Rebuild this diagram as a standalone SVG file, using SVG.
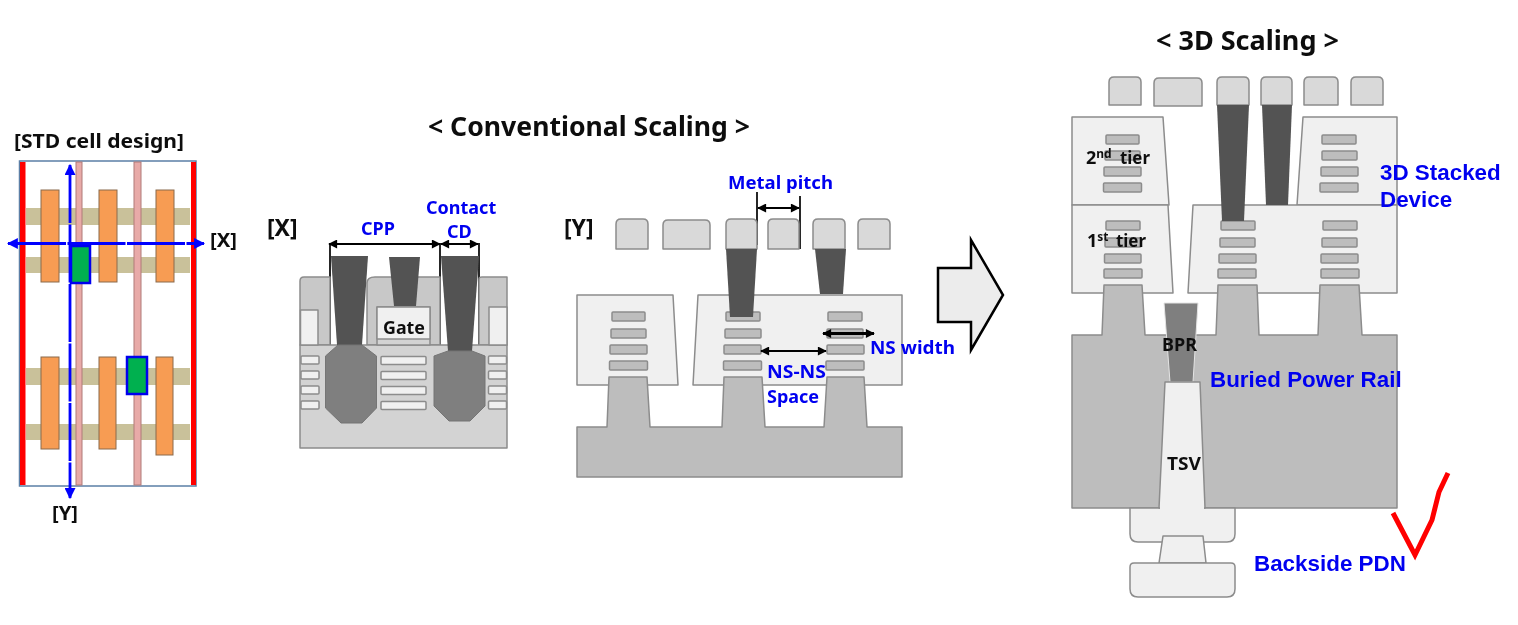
<svg xmlns="http://www.w3.org/2000/svg" width="1518" height="625" viewBox="0 0 1518 625">
<defs>
<filter id="soft" filterUnits="userSpaceOnUse" x="0" y="0" width="1518" height="625"><feGaussianBlur stdDeviation="0.45"/></filter>
<marker id="bk" viewBox="0 0 10 10" refX="9" refY="5" markerWidth="10" markerHeight="9" markerUnits="userSpaceOnUse" orient="auto-start-reverse"><path d="M0 0L10 5L0 10Z" fill="#000"/></marker>
<marker id="bl" viewBox="0 0 10 10" refX="9" refY="5" markerWidth="11" markerHeight="11" markerUnits="userSpaceOnUse" orient="auto-start-reverse"><path d="M0 0L10 5L0 10Z" fill="#0000ff"/></marker>
</defs>
<style>
text{font-family:"Noto Sans","Liberation Sans",sans-serif;font-weight:700}
.h{font-size:26px;fill:#111}
.k{font-size:18px;fill:#111}
.b{font-size:18px;fill:#0000f0}
.a{font-family:"Liberation Sans",Arial,sans-serif;font-size:22.4px;fill:#0000f0}
.s{font-size:12px}
.o{fill:#f79c53;stroke:#8a6a4c;stroke-width:1}
.t{fill:#c9c19a}
.p{fill:#e8aaa8;stroke:#b07a78;stroke-width:1}
.gr{fill:#00b050;stroke:#0000ee;stroke-width:2.5}
.m{fill:#d9d9d9;stroke:#8c8c8c;stroke-width:1.5;stroke-linejoin:round}
.d{fill:#f0f0f0;stroke:#8c8c8c;stroke-width:1.5;stroke-linejoin:round}
.n{fill:#bdbdbd;stroke:#8c8c8c;stroke-width:1.5;stroke-linejoin:round}
.v{fill:#525252;stroke:none}
.x{fill:#7f7f7f;stroke:#757575;stroke-width:1}
.w{fill:#f0f0f0;stroke:#8c8c8c;stroke-width:1.5}
.blk{stroke:#000;stroke-width:1.7;fill:none}
.ar{stroke:#000;stroke-width:2;fill:none;marker-start:url(#bk);marker-end:url(#bk)}
.bl{stroke:#0000ff;stroke-width:2.8;fill:none;marker-start:url(#bl);marker-end:url(#bl)}
</style>
<rect width="1518" height="625" fill="#fff"/>
<g filter="url(#soft)">

<text class="h" x="428" y="136" textLength="322" lengthAdjust="spacingAndGlyphs">&lt; Conventional Scaling &gt;</text>
<text class="h" x="1156" y="50" textLength="183" lengthAdjust="spacingAndGlyphs">&lt; 3D Scaling &gt;</text>

<g id="std-cell">
<text class="k" x="14" y="148" textLength="170" lengthAdjust="spacingAndGlyphs" style="font-size:19px">[STD cell design]</text>
<rect x="19.5" y="161" width="176.500" height="325" fill="#fff" stroke="#5b7fa6" stroke-width="1.500"/>
<rect class="t" x="26" y="208" width="164" height="17"/>
<rect class="t" x="26" y="257" width="164" height="16"/>
<rect class="t" x="26" y="368" width="164" height="17"/>
<rect class="t" x="26" y="424" width="164" height="16"/>
<rect class="p" x="76" y="162" width="6" height="323"/>
<rect class="p" x="134" y="162" width="7" height="323"/>
<rect x="20" y="162" width="5.500" height="323" fill="#ff0000"/>
<rect x="191" y="162" width="5" height="323" fill="#ff0000"/>
<rect class="o" x="41" y="190" width="18" height="92"/>
<rect class="o" x="99" y="190" width="18" height="92"/>
<rect class="o" x="156" y="190" width="18" height="92"/>
<rect class="o" x="41" y="357" width="18" height="92"/>
<rect class="o" x="99" y="357" width="17" height="92"/>
<rect class="o" x="156" y="357" width="17" height="98"/>
<rect class="gr" x="71" y="246" width="19" height="37"/>
<rect class="gr" x="127" y="357" width="20" height="37"/>
</g>

<g id="connectors">
<line class="bl" x1="70" y1="165" x2="70" y2="498" stroke-dasharray="58 1.5"/>
<line class="bl" x1="8" y1="243.500" x2="204" y2="243.500" stroke-dasharray="58 1.5"/>
<line class="blk" x1="330" y1="243" x2="330" y2="345"/>
<line class="blk" x1="440" y1="243" x2="440" y2="345"/>
<line class="blk" x1="479" y1="243" x2="479" y2="345"/>
<line class="blk" x1="757" y1="192" x2="757" y2="245"/>
<line class="blk" x1="800" y1="196" x2="800" y2="249"/>
</g>
<text class="k" x="210" y="247" textLength="27" lengthAdjust="spacingAndGlyphs" style="font-size:20px">[X]</text>
<text class="k" x="52" y="520" textLength="26" lengthAdjust="spacingAndGlyphs" style="font-size:20px">[Y]</text>

<g id="x-section">
<text class="h" x="267" y="236" style="font-size:23px">[X]</text>
<path class="n" d="M300 345V281Q300 277 304 277H330V345Z" style="fill:#c8c8c8"/>
<path class="n" d="M367 345V283Q367 277 375 277H440V345Z" style="fill:#c8c8c8"/>
<path class="n" d="M479 345V279Q479 277 482 277H507V345Z" style="fill:#c8c8c8"/>
<rect class="n" x="300" y="345" width="207" height="103" style="fill:#d3d3d3"/>
<rect class="d" x="300.500" y="310" width="17.500" height="35"/>
<rect class="d" x="489" y="307" width="18" height="38"/>
<rect class="n" x="377" y="307" width="53" height="38" style="fill:#d3d3d3"/>
<rect class="d" x="377" y="307" width="53" height="32"/>
<path class="v" d="M331 256H368L362 345H337Z"/>
<path class="v" d="M389 257H420L416 306H394Z"/>
<path class="v" d="M441 256H479L472 351H448Z"/>
<g>
<rect class="w" x="301" y="356" width="18" height="8" rx="1"/><rect class="w" x="301" y="371" width="18" height="8" rx="1"/><rect class="w" x="301" y="386" width="18" height="8" rx="1"/><rect class="w" x="301" y="401" width="18" height="8" rx="1"/>
<rect class="w" x="381" y="356.500" width="45" height="8" rx="1"/><rect class="w" x="381" y="371.500" width="45" height="8" rx="1"/><rect class="w" x="381" y="386.500" width="45" height="8" rx="1"/><rect class="w" x="381" y="401.500" width="45" height="8" rx="1"/>
<rect class="w" x="488.500" y="356" width="18" height="8" rx="1"/><rect class="w" x="488.500" y="371" width="18" height="8" rx="1"/><rect class="w" x="488.500" y="386" width="18" height="8" rx="1"/><rect class="w" x="488.500" y="401" width="18" height="8" rx="1"/>
</g>
<path class="x" d="M338 345H362L376.500 356V408L362 423H341L325.500 408V356Z"/>
<path class="x" d="M448 351H472L485 356V406L470 421H449L434 406V356Z"/>
<text class="k" x="383" y="334" textLength="42" lengthAdjust="spacingAndGlyphs">Gate</text>
<text class="b" x="361" y="235">CPP</text>
<text class="b" x="426" y="214">Contact</text>
<text class="b" x="447" y="238">CD</text>
<line class="ar" x1="329" y1="244" x2="440" y2="244"/>
<line class="ar" x1="441" y1="244" x2="478" y2="244"/>
</g>

<g id="y-section">
<text class="h" x="564" y="236" style="font-size:23px">[Y]</text>
<path class="m" d="M616 249V224Q616 219 621 219H643Q648 219 648 224V249Z"/>
<path class="m" d="M663 249V225Q663 220 668 220H705Q710 220 710 225V249Z"/>
<path class="m" d="M726 249V224Q726 219 731 219H752Q757 219 757 224V249Z"/>
<path class="m" d="M768 249V224Q768 219 773 219H794Q799 219 799 224V249Z"/>
<path class="m" d="M813 249V224Q813 219 818 219H840Q845 219 845 224V249Z"/>
<path class="m" d="M858 249V224Q858 219 863 219H885Q890 219 890 224V249Z"/>
<path class="d" d="M577 295H673L678 385H577Z"/>
<path class="d" d="M698 295H902V385H693Z"/>
<path class="n" d="M577 427H607L609 377H647L650 427H722L724 377H762L765 427H824L827 377H864L867 427H902V477H577Z"/>
<g>
<rect class="n" x="612" y="312" width="33" height="9" rx="1"/><rect class="n" x="611" y="329" width="35" height="9" rx="1"/><rect class="n" x="610" y="345" width="37" height="9" rx="1"/><rect class="n" x="609.500" y="361" width="38" height="9" rx="1"/>
<rect class="n" x="726" y="312" width="34" height="9" rx="1"/><rect class="n" x="725" y="329" width="36" height="9" rx="1"/><rect class="n" x="724" y="345" width="37" height="9" rx="1"/><rect class="n" x="723.500" y="361" width="38" height="9" rx="1"/>
<rect class="n" x="828" y="312" width="34" height="9" rx="1"/><rect class="n" x="827" y="329" width="36" height="9" rx="1"/><rect class="n" x="827" y="345" width="37" height="9" rx="1"/><rect class="n" x="826" y="361" width="38" height="9" rx="1"/>
</g>
<path class="v" d="M726 249H757L753 317H730Z"/>
<path class="v" d="M815 249H846L843 294H820Z"/>
<text class="b" x="728" y="189" textLength="105" lengthAdjust="spacingAndGlyphs">Metal pitch</text>
<text class="b" x="870" y="354" textLength="85" lengthAdjust="spacingAndGlyphs">NS width</text>
<text class="b" x="767" y="378" textLength="59" lengthAdjust="spacingAndGlyphs">NS-NS</text>
<text class="b" x="767" y="403">Space</text>
<line class="ar" x1="758" y1="208" x2="799" y2="208"/>
<line class="ar" x1="761" y1="351" x2="826" y2="351"/>
<line class="ar" style="stroke-width:3" x1="823" y1="333.500" x2="874" y2="333.500"/>
</g>

<g id="big-arrow">
<path d="M938 268H971V240L1003 295L971 350V322H938Z" fill="#ececec" stroke="#000" stroke-width="2.500"/>
</g>

<g id="scaling-3d">
<path class="m" d="M1109 105V82Q1109 77 1114 77H1136Q1141 77 1141 82V105Z"/>
<path class="m" d="M1154 106V83Q1154 78 1159 78H1197Q1202 78 1202 83V106Z"/>
<path class="m" d="M1217 105V82Q1217 77 1222 77H1244Q1249 77 1249 82V105Z"/>
<path class="m" d="M1261 105V82Q1261 77 1266 77H1287Q1292 77 1292 82V105Z"/>
<path class="m" d="M1304 105V82Q1304 77 1309 77H1333Q1338 77 1338 82V105Z"/>
<path class="m" d="M1351 105V82Q1351 77 1356 77H1378Q1383 77 1383 82V105Z"/>
<path class="d" d="M1072 117H1163L1169 205H1072Z"/>
<path class="d" d="M1072 205H1168L1173 293H1072Z"/>
<path class="d" d="M1303 117H1397V205H1297Z"/>
<path class="d" d="M1193 205H1397V293H1188Z"/>
<path class="n" d="M1072 335H1102L1104 285H1142L1145 335H1216L1218 285H1257L1259 335H1318L1320 285H1359L1362 335H1397V508H1072Z"/>
<g>
<rect class="n" x="1106" y="135" width="33" height="9" rx="1"/><rect class="n" x="1105" y="151" width="35" height="9" rx="1"/><rect class="n" x="1104" y="167" width="37" height="9" rx="1"/><rect class="n" x="1103.500" y="183" width="38" height="9" rx="1"/>
<rect class="n" x="1322" y="135" width="34" height="9" rx="1"/><rect class="n" x="1322" y="151" width="35" height="9" rx="1"/><rect class="n" x="1321" y="167" width="37" height="9" rx="1"/><rect class="n" x="1320" y="183" width="38" height="9" rx="1"/>
<rect class="n" x="1106" y="221" width="34" height="9" rx="1"/><rect class="n" x="1105" y="238" width="36" height="9" rx="1"/><rect class="n" x="1104.500" y="254" width="36.500" height="9" rx="1"/><rect class="n" x="1104" y="269" width="38" height="9" rx="1"/>
<rect class="n" x="1221" y="221" width="34" height="9" rx="1"/><rect class="n" x="1220" y="238" width="35" height="9" rx="1"/><rect class="n" x="1219" y="254" width="37" height="9" rx="1"/><rect class="n" x="1218" y="269" width="38" height="9" rx="1"/>
<rect class="n" x="1323" y="221" width="34" height="9" rx="1"/><rect class="n" x="1322" y="238" width="35" height="9" rx="1"/><rect class="n" x="1321" y="254" width="37" height="9" rx="1"/><rect class="n" x="1321" y="269" width="38" height="9" rx="1"/>
</g>
<path class="v" d="M1217 105H1249L1244 221H1222Z"/>
<path class="v" d="M1262 105H1292L1288 205H1266Z"/>
<path class="x" d="M1164 303H1198L1193 382H1170Z" style="stroke:#e4e4e4"/>
<path class="d" d="M1130 508H1235V534Q1235 542 1227 542H1138Q1130 542 1130 534Z"/>
<path class="d" d="M1165 382H1200L1205 508H1159Z"/>
<path fill="#f0f0f0" d="M1160 505H1204V510H1160Z"/>
<path class="d" d="M1163 536H1203L1206 563H1159Z"/>
<path class="d" d="M1130 567Q1130 563 1134 563H1231Q1235 563 1235 567V589Q1235 597 1227 597H1138Q1130 597 1130 589Z"/>
<text class="k" x="1086" y="164">2<tspan class="s" dy="-6">nd</tspan></text>
<text class="k" x="1120" y="164" textLength="30" lengthAdjust="spacingAndGlyphs">tier</text>
<text class="k" x="1087" y="247">1<tspan class="s" dy="-6">st</tspan></text>
<text class="k" x="1116" y="247" textLength="30" lengthAdjust="spacingAndGlyphs">tier</text>
<text class="k" x="1162" y="351" textLength="35" lengthAdjust="spacingAndGlyphs">BPR</text>
<text class="k" x="1167" y="470" textLength="34" lengthAdjust="spacingAndGlyphs">TSV</text>
<text class="a" x="1380" y="180">3D Stacked</text>
<text class="a" x="1380" y="207">Device</text>
<text class="a" x="1210" y="387">Buried Power Rail</text>
<text class="a" x="1254" y="571">Backside PDN</text>
</g>

<path id="check" d="M1393 513L1415 555L1432 520L1439 492L1448 473" fill="none" stroke="#ff0000" stroke-width="5"/>
</g>
</svg>
